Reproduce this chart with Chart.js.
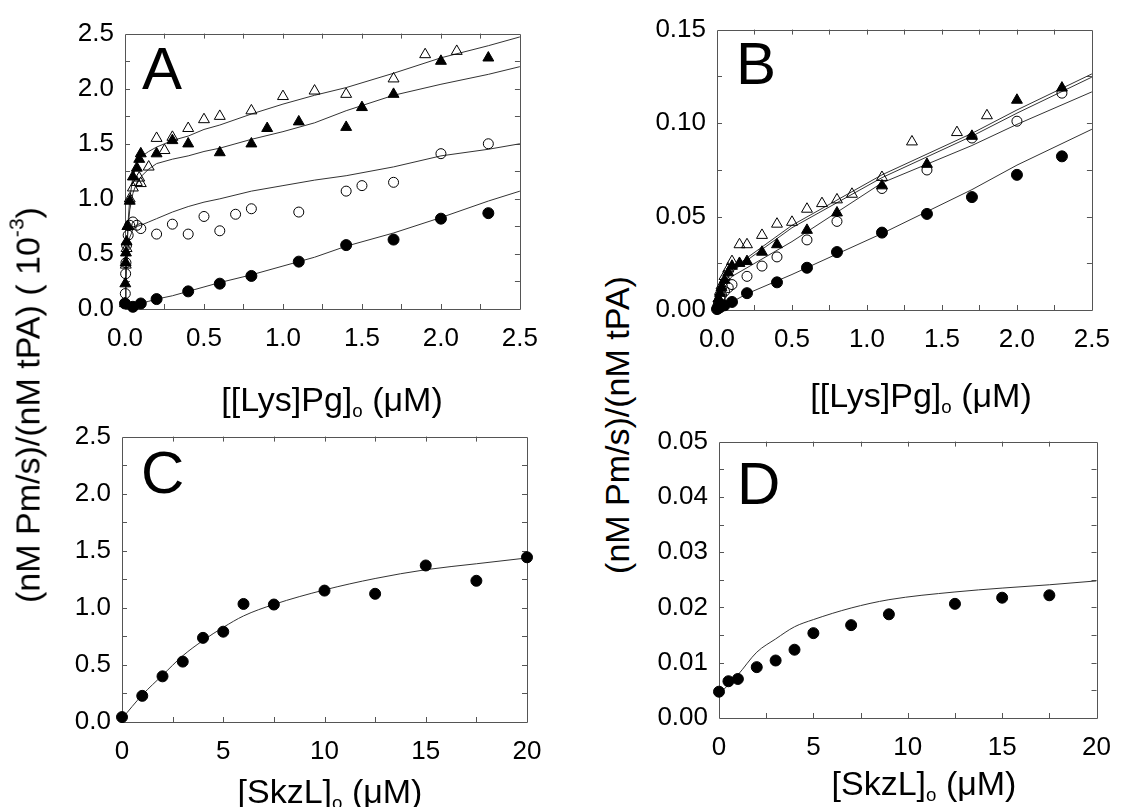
<!DOCTYPE html>
<html><head><meta charset="utf-8">
<script src="https://cdn.jsdelivr.net/npm/chart.js@4.4.1/dist/chart.umd.min.js"></script>
<style>
html,body{margin:0;padding:0;background:#fff;overflow:hidden;width:1125px;height:807px;}
body{position:relative;font-family:"Liberation Sans",Arial,Helvetica,sans-serif;color:#000;}
canvas{position:absolute;}
.lbl{position:absolute;font-size:60px;line-height:60px;}
.xt{position:absolute;width:400px;text-align:center;font-size:34px;line-height:40px;white-space:nowrap;}
.yt{position:absolute;font-size:34px;line-height:40px;white-space:nowrap;transform:translate(-50%,-50%) rotate(-90deg);}
sub{font-size:55%;vertical-align:baseline;position:relative;top:0.3em;}
sup{font-size:62%;vertical-align:baseline;position:relative;top:-0.75em;}
</style></head><body>
<canvas id="cA"></canvas><canvas id="cB"></canvas><canvas id="cC"></canvas><canvas id="cD"></canvas>
<div class="lbl" style="left:142px;top:39px;">A</div>
<div class="lbl" style="left:736px;top:34px;">B</div>
<div class="lbl" style="left:141px;top:443px;">C</div>
<div class="lbl" style="left:737px;top:454px;">D</div>
<div class="xt" style="left:132px;top:379px;">[[Lys]Pg]<sub>o</sub> (μM)</div>
<div class="xt" style="left:721px;top:375px;">[[Lys]Pg]<sub>o</sub> (μM)</div>
<div class="xt" style="left:130px;top:771px;">[SkzL]<sub>o</sub> (μM)</div>
<div class="xt" style="left:724px;top:763px;">[SkzL]<sub>o</sub> (μM)</div>
<div class="yt" style="left:30px;top:405px;">(nM Pm/s)/(nM tPA) ( 10<sup>-3</sup>)</div>
<div class="yt" style="left:617px;top:425px;">(nM Pm/s)/(nM tPA)</div>
<script>
// ---------- Panel A data ----------
const aOpenTriX = [0.005,0.01,0.02,0.03,0.05,0.075,0.09,0.1,0.15,0.2,0.25,0.3,0.4,0.5,0.6,0.8,1.0,1.2,1.4,1.7,1.9,2.1];
const aOpenTriY = [0.40,0.55,0.75,1.00,1.10,1.15,1.19,1.14,1.29,1.55,1.44,1.56,1.64,1.72,1.75,1.80,1.93,1.98,1.95,2.09,2.31,2.34];
const aFillTriX = [0,0.002,0.004,0.006,0.01,0.015,0.03,0.05,0.075,0.09,0.1,0.2,0.3,0.4,0.6,0.8,0.9,1.1,1.4,1.5,1.7,2.0,2.3];
const aFillTriY = [0.05,0.23,0.42,0.51,0.61,0.75,0.98,1.20,1.28,1.36,1.41,1.41,1.53,1.50,1.42,1.50,1.64,1.70,1.65,1.83,1.95,2.25,2.28];
const aOpenCircX = [0.002,0.004,0.006,0.01,0.02,0.03,0.05,0.075,0.1,0.2,0.3,0.4,0.5,0.6,0.7,0.8,1.1,1.4,1.5,1.7,2.0,2.3];
const aOpenCircY = [0.14,0.32,0.42,0.58,0.67,0.76,0.79,0.76,0.73,0.68,0.77,0.68,0.84,0.71,0.86,0.91,0.88,1.07,1.12,1.15,1.41,1.50];
const aFillCircX = [0,0.05,0.1,0.2,0.4,0.6,0.8,1.1,1.4,1.7,2.0,2.3];
const aFillCircY = [0.05,0.02,0.05,0.09,0.16,0.23,0.30,0.43,0.58,0.63,0.82,0.87];
const aFitX  = [0,0.005,0.01,0.02,0.03,0.05,0.075,0.1,0.15,0.2,0.3,0.4,0.5,0.6,0.8,1.0,1.2,1.4,1.7,2.0,2.3,2.5];
const aFit1 = [0,0.30,0.50,0.80,1.00,1.20,1.32,1.38,1.43,1.47,1.53,1.57,1.63,1.67,1.77,1.86,1.94,2.01,2.14,2.28,2.39,2.47];
const aFit2 = [0,0.28,0.48,0.75,0.90,1.05,1.15,1.20,1.27,1.32,1.36,1.39,1.43,1.46,1.54,1.61,1.69,1.80,1.94,2.04,2.13,2.20];
const aFit3 = [0,0.22,0.38,0.55,0.65,0.72,0.75,0.76,0.79,0.82,0.88,0.93,0.97,1.00,1.07,1.12,1.17,1.21,1.29,1.39,1.45,1.50];
const aFit4 = [0.02,0.02,0.02,0.02,0.03,0.03,0.04,0.05,0.07,0.09,0.12,0.16,0.20,0.24,0.31,0.39,0.47,0.57,0.69,0.83,0.98,1.07];
const aXTicks = [0,0.5,1.0,1.5,2.0,2.5];
const aXLabels = ["0.0","0.5","1.0","1.5","2.0","2.5"];
const aYTicks = [0,0.5,1.0,1.5,2.0,2.5];
const aYLabels = ["0.0","0.5","1.0","1.5","2.0","2.5"];

// ---------- Panel B data ----------
const bOpenTriX = [0.01,0.02,0.03,0.05,0.075,0.1,0.15,0.2,0.3,0.4,0.5,0.6,0.7,0.8,0.9,1.1,1.3,1.6,1.8];
const bOpenTriY = [0.006,0.010,0.013,0.018,0.022,0.026,0.035,0.035,0.040,0.046,0.047,0.054,0.057,0.059,0.062,0.071,0.090,0.095,0.104];
const bFillTriX = [0.005,0.01,0.02,0.03,0.05,0.075,0.1,0.15,0.2,0.3,0.4,0.6,0.8,1.1,1.4,1.7,2.0,2.3];
const bFillTriY = [0.003,0.006,0.009,0.012,0.016,0.020,0.0235,0.025,0.026,0.031,0.035,0.0427,0.052,0.0665,0.078,0.093,0.1123,0.1188];
const bOpenCircX = [0.005,0.01,0.02,0.03,0.05,0.075,0.1,0.2,0.3,0.4,0.6,0.8,1.1,1.4,1.7,2.0,2.3];
const bOpenCircY = [0.002,0.004,0.006,0.008,0.010,0.012,0.0136,0.018,0.0235,0.0284,0.0375,0.0474,0.065,0.0749,0.092,0.101,0.116];
const bFillCircX = [0,0.01,0.02,0.05,0.1,0.2,0.4,0.6,0.8,1.1,1.4,1.7,2.0,2.3];
const bFillCircY = [0.0005,0.001,0.0015,0.0025,0.0043,0.009,0.0148,0.0226,0.031,0.0414,0.0514,0.0604,0.0723,0.0822];
const bFitX  = [0,0.01,0.02,0.05,0.1,0.2,0.5,1.1,1.7,2.0,2.5];
const bFit1 = [0,0.006,0.009,0.015,0.0218,0.0279,0.0453,0.0723,0.0945,0.107,0.1263];
const bFit2 = [0,0.0055,0.0085,0.014,0.0205,0.0266,0.0440,0.0708,0.0930,0.1053,0.1246];
const bFit3 = [0,0.004,0.007,0.012,0.018,0.0226,0.0366,0.068,0.088,0.0993,0.1167];
const bFit4 = [0,0.0004,0.0008,0.002,0.0043,0.0087,0.019,0.0409,0.0644,0.0775,0.0967];
const bXTicks = [0,0.5,1.0,1.5,2.0,2.5];
const bXLabels = ["0.0","0.5","1.0","1.5","2.0","2.5"];
const bYTicks = [0,0.05,0.10,0.15];
const bYLabels = ["0.00","0.05","0.10","0.15"];

// ---------- Panel C data ----------
const cX = [0,1,2,3,4,5,6,7.5,10,12.5,15,17.5,20];
const cY = [0.043,0.229,0.40,0.529,0.737,0.791,1.034,1.029,1.151,1.123,1.371,1.237,1.443];
const cFitX = [0,1,2,3,4,5,6,7.5,10,12.5,15,17.5,20];
const cFitY = [0.03,0.237,0.41,0.58,0.714,0.829,0.929,1.03,1.157,1.257,1.334,1.386,1.437];
const cXTicks = [0,5,10,15,20];
const cXLabels = ["0","5","10","15","20"];
const cYTicks = [0,0.5,1.0,1.5,2.0,2.5];
const cYLabels = ["0.0","0.5","1.0","1.5","2.0","2.5"];

// ---------- Panel D data ----------
const dX = [0,0.5,1,2,3,4,5,7,9,12.5,15,17.5];
const dY = [0.00476,0.00665,0.00706,0.0092,0.0104,0.01235,0.01535,0.0168,0.01876,0.02065,0.02176,0.0222];
const dFitX = [0,1,2,3,4,5,7,9,12.5,15,17.5,20];
const dFitY = [0.0043,0.0078,0.0119,0.0143,0.0165,0.0178,0.0199,0.0214,0.0228,0.0235,0.0241,0.0248];
const dXTicks = [0,5,10,15,20];
const dXLabels = ["0","5","10","15","20"];
const dYTicks = [0,0.01,0.02,0.03,0.04,0.05];
const dYLabels = ["0.00","0.01","0.02","0.03","0.04","0.05"];

// ---------- layout / style ----------
const FONT = '"Liberation Sans", Arial, Helvetica, sans-serif';
const YW = 80, XH = 50, PADT = 20;
const FRAME = '#555';
const LINE = '#333';

const pts = (xs, ys) => xs.map((x, i) => ({x: x, y: ys[i]}));

const framePlugin = {
  id: 'frame',
  beforeDatasetsDraw(chart, args, opts) {
    const ctx = chart.ctx, a = chart.chartArea, x = chart.scales.x, y = chart.scales.y;
    const L = 5;
    ctx.save();
    ctx.strokeStyle = FRAME; ctx.lineWidth = 1;
    ctx.beginPath();
    ctx.rect(Math.round(a.left) + 0.5, Math.round(a.top) + 0.5, Math.round(a.right - a.left), Math.round(a.bottom - a.top));
    const nx = Math.round((x.max - x.min) / opts.xMinor);
    for (let i = 1; i < nx; i++) {
      const px = Math.round(x.getPixelForValue(x.min + i * opts.xMinor)) + 0.5;
      ctx.moveTo(px, a.bottom); ctx.lineTo(px, a.bottom - L);
      ctx.moveTo(px, a.top); ctx.lineTo(px, a.top + L);
    }
    const ny = Math.round((y.max - y.min) / opts.yMinor);
    for (let i = 1; i < ny; i++) {
      const py = Math.round(y.getPixelForValue(y.min + i * opts.yMinor)) + 0.5;
      ctx.moveTo(a.left, py); ctx.lineTo(a.left + L, py);
      ctx.moveTo(a.right, py); ctx.lineTo(a.right - L, py);
    }
    ctx.stroke();
    ctx.restore();
  }
};

function marker(xs, ys, style, filled, r) {
  return {data: pts(xs, ys), showLine: false, pointStyle: style, pointRadius: r,
    pointBackgroundColor: filled ? '#000' : 'rgba(0,0,0,0)', pointBorderColor: '#000',
    pointBorderWidth: 1, clip: false, order: 0};
}
function fit(xs, ys, smooth) {
  const d = {data: pts(xs, ys), showLine: true, pointRadius: 0, borderColor: LINE,
    borderWidth: 1, fill: false, order: 1, tension: 0};
  if (smooth) d.cubicInterpolationMode = 'monotone';
  return d;
}

function makeChart(id, box, datasets, ax) {
  const cv = document.getElementById(id);
  const W = YW + box.w + box.padR, H = PADT + box.h + XH;
  cv.width = W; cv.height = H;
  cv.style.width = W + 'px'; cv.style.height = H + 'px';
  cv.style.left = (box.left - YW) + 'px'; cv.style.top = (box.top - PADT) + 'px';
  const tickFont = {family: FONT, size: 26};
  new Chart(cv, {
    type: 'scatter',
    data: {datasets: datasets},
    options: {
      responsive: false, animation: false, devicePixelRatio: 1, events: [],
      layout: {autoPadding: false, padding: {top: PADT, right: box.padR, left: 0, bottom: 0}},
      plugins: {legend: {display: false}, tooltip: {enabled: false},
        frame: {xMinor: ax.xMinor, yMinor: ax.yMinor}},
      scales: {
        x: {type: 'linear', min: ax.xTicks[0], max: ax.xTicks[ax.xTicks.length - 1],
          afterFit(s) { s.height = XH; },
          afterBuildTicks(s) { s.ticks = ax.xTicks.map(v => ({value: v})); },
          grid: {display: false, drawTicks: false}, border: {display: false},
          ticks: {padding: 14, color: '#000', font: tickFont, maxRotation: 0, autoSkip: false,
            callback: (v, i) => ax.xLabels[i]}},
        y: {type: 'linear', min: ax.yTicks[0], max: ax.yTicks[ax.yTicks.length - 1],
          afterFit(s) { s.width = YW; },
          afterBuildTicks(s) { s.ticks = ax.yTicks.map(v => ({value: v})); },
          grid: {display: false, drawTicks: false}, border: {display: false},
          ticks: {padding: 11, color: '#000', font: tickFont, autoSkip: false,
            callback: (v, i) => ax.yLabels[i]}}
      }
    },
    plugins: [framePlugin]
  });
}

// Panel A
makeChart('cA', {left: 125, top: 27, w: 397, h: 282, padR: 30}, [
  marker(aOpenTriX, aOpenTriY, 'triangle', false, 6.3),
  marker(aFillTriX, aFillTriY, 'triangle', true, 6.3),
  marker(aOpenCircX, aOpenCircY, 'circle', false, 5),
  marker(aFillCircX, aFillCircY, 'circle', true, 5.5),
  fit(aFitX, aFit1), fit(aFitX, aFit2), fit(aFitX, aFit3), fit(aFitX, aFit4)
], {xTicks: aXTicks, xLabels: aXLabels, yTicks: aYTicks, yLabels: aYLabels, xMinor: 0.25, yMinor: 0.25});

// Panel B
makeChart('cB', {left: 717, top: 23, w: 387, h: 287, padR: 20}, [
  marker(bOpenTriX, bOpenTriY, 'triangle', false, 6.3),
  marker(bFillTriX, bFillTriY, 'triangle', true, 6.3),
  marker(bOpenCircX, bOpenCircY, 'circle', false, 5),
  marker(bFillCircX, bFillCircY, 'circle', true, 5.5),
  fit(bFitX, bFit1), fit(bFitX, bFit2), fit(bFitX, bFit3), fit(bFitX, bFit4)
], {xTicks: bXTicks, xLabels: bXLabels, yTicks: bYTicks, yLabels: bYLabels, xMinor: 0.25, yMinor: 0.025});

// Panel C
makeChart('cC', {left: 122, top: 430, w: 405, h: 292, padR: 30}, [
  marker(cX, cY, 'circle', true, 5.5),
  fit(cFitX, cFitY, true)
], {xTicks: cXTicks, xLabels: cXLabels, yTicks: cYTicks, yLabels: cYLabels, xMinor: 2.5, yMinor: 0.25});

// Panel D
makeChart('cD', {left: 719, top: 435, w: 387, h: 283, padR: 19}, [
  marker(dX, dY, 'circle', true, 5.5),
  fit(dFitX, dFitY, true)
], {xTicks: dXTicks, xLabels: dXLabels, yTicks: dYTicks, yLabels: dYLabels, xMinor: 2.5, yMinor: 0.005});
</script>
</body></html>
